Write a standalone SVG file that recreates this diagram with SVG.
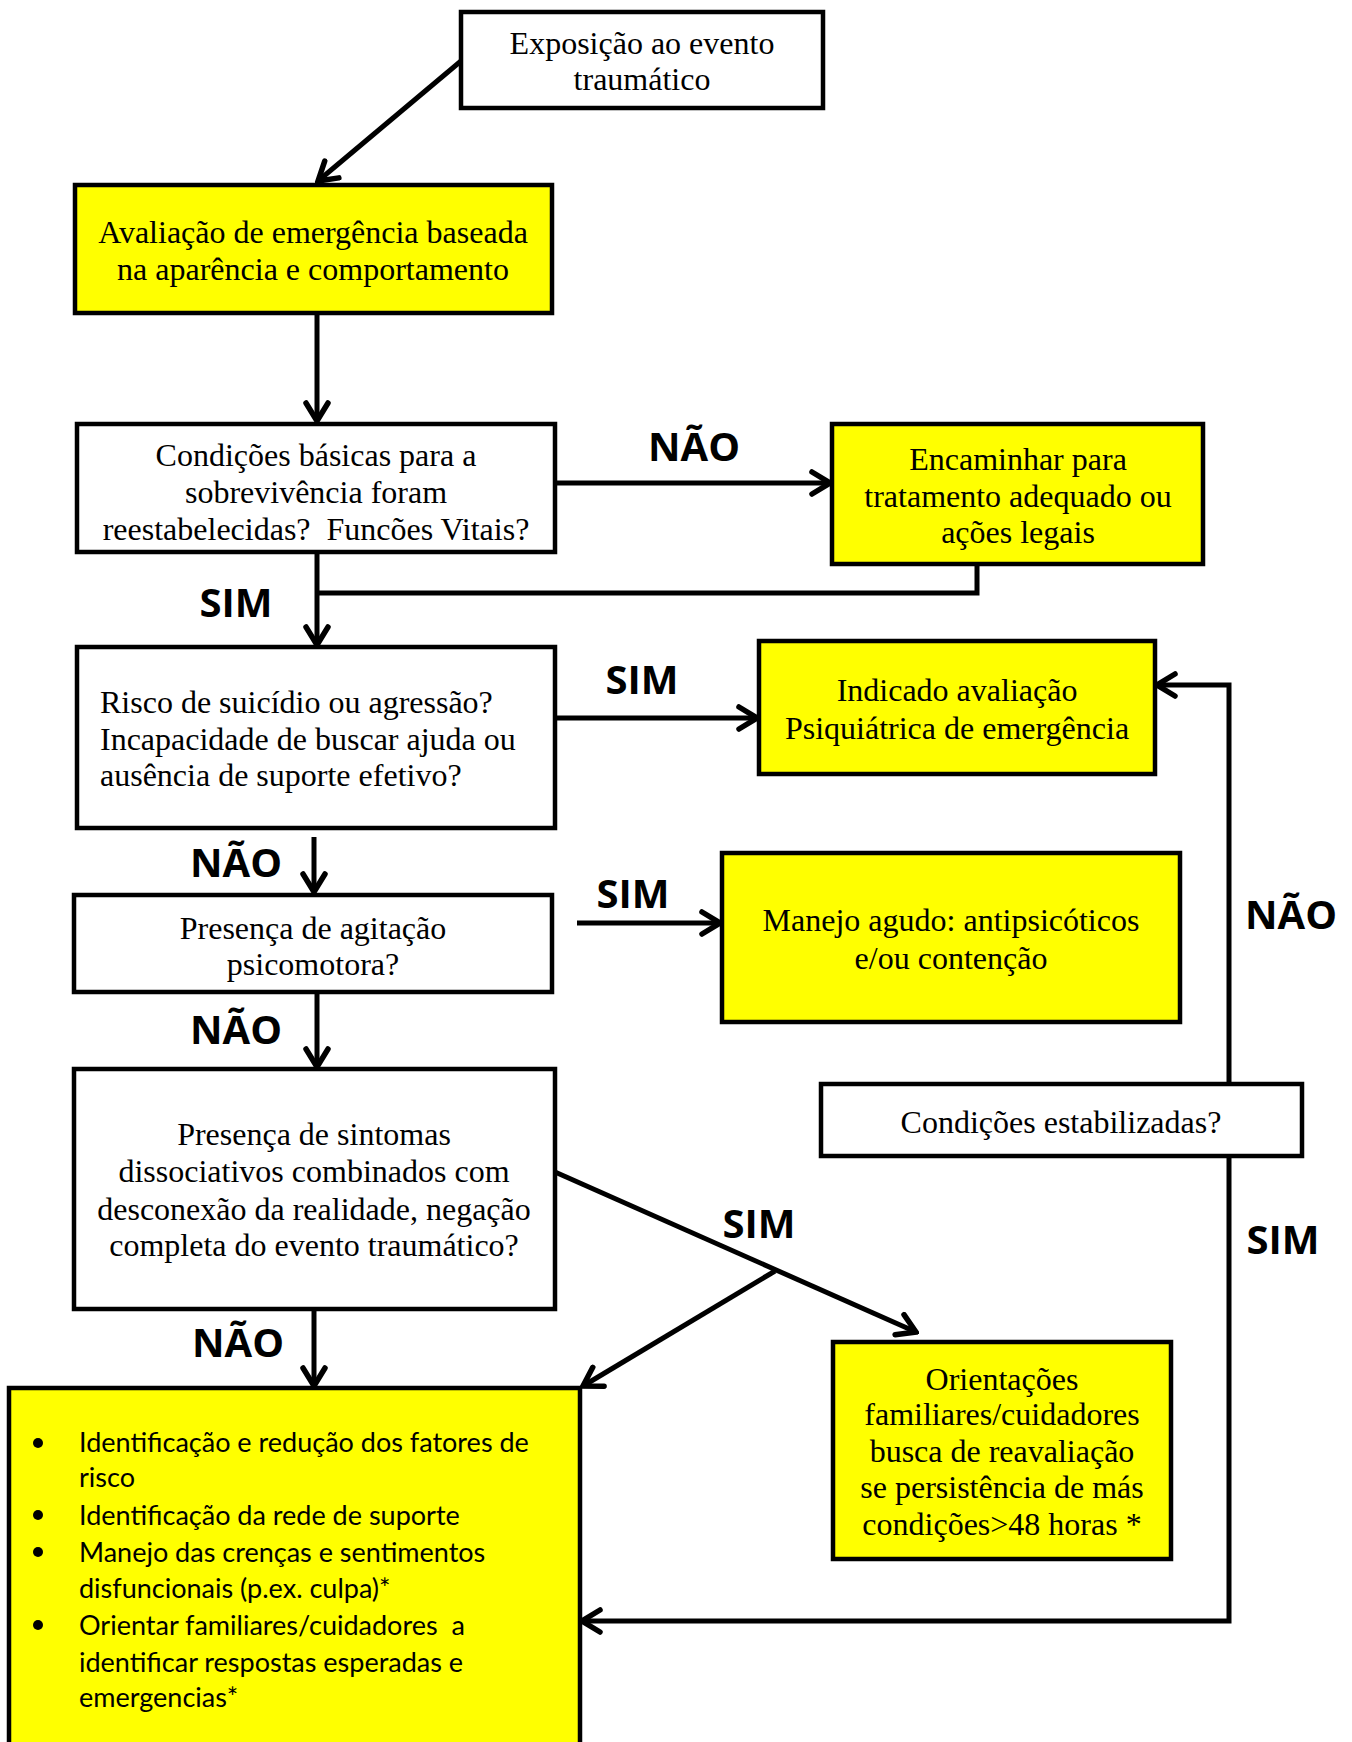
<svg xmlns="http://www.w3.org/2000/svg" width="1352" height="1742" viewBox="0 0 1352 1742">
<style>
.box{fill:#fff;stroke:#000;stroke-width:4.5}
.yel{fill:#ffff00;stroke:#000;stroke-width:4.5}
.t{font-family:"Liberation Serif","Times New Roman",serif;font-size:32px;fill:#000;text-anchor:middle}
.tl{font-family:"Liberation Serif","Times New Roman",serif;font-size:32px;fill:#000}
.lab{font-family:"Open Sans","Liberation Sans",sans-serif;font-weight:700;font-size:40px;fill:#000;text-anchor:middle}
.bt{font-family:Lato,"Liberation Sans",sans-serif;font-size:27px;fill:#000}
.pre{white-space:pre}
.c{fill:none;stroke:#000;stroke-width:5}
</style>
<defs>
<marker id="ah" viewBox="0 0 24 28" refX="21" refY="14" markerWidth="24" markerHeight="28" markerUnits="userSpaceOnUse" orient="auto">
<path d="M3,3 L21,14 L3,25" fill="none" stroke="#000" stroke-width="5.5" stroke-linecap="round" stroke-linejoin="miter"/>
</marker>
</defs>
<g id="connectors">
<line class="c" x1="461" y1="61" x2="318" y2="181" marker-end="url(#ah)"/>
<line class="c" x1="317" y1="313" x2="317" y2="421" marker-end="url(#ah)"/>
<line class="c" x1="555" y1="483" x2="830" y2="483" marker-end="url(#ah)"/>
<polyline class="c" points="977,564 977,593 317,593"/>
<line class="c" x1="317" y1="552" x2="317" y2="645" marker-end="url(#ah)"/>
<line class="c" x1="555" y1="718" x2="757" y2="718" marker-end="url(#ah)"/>
<polyline class="c" points="1229,1083 1229,685 1157,685" marker-end="url(#ah)"/>
<line class="c" x1="314" y1="837" x2="314" y2="892" marker-end="url(#ah)"/>
<line class="c" x1="577" y1="923" x2="720" y2="923" marker-end="url(#ah)"/>
<line class="c" x1="317" y1="994" x2="317" y2="1067" marker-end="url(#ah)"/>
<line class="c" x1="555" y1="1172" x2="916" y2="1332" marker-end="url(#ah)"/>
<line class="c" x1="775" y1="1271" x2="583" y2="1386" marker-end="url(#ah)"/>
<line class="c" x1="314" y1="1311" x2="314" y2="1386" marker-end="url(#ah)"/>
<polyline class="c" points="1229,1156 1229,1621 582,1621" marker-end="url(#ah)"/>
</g>
<g id="labels">
<text class="lab" x="694" y="461">NÃO</text>
<text class="lab" x="236" y="617">SIM</text>
<text class="lab" x="642" y="694">SIM</text>
<text class="lab" x="236" y="877">NÃO</text>
<text class="lab" x="633" y="908">SIM</text>
<text class="lab" x="236" y="1044">NÃO</text>
<text class="lab" x="1291" y="929">NÃO</text>
<text class="lab" x="759" y="1238">SIM</text>
<text class="lab" x="1283" y="1254">SIM</text>
<text class="lab" x="238" y="1357">NÃO</text>
</g>
<g id="n1">
<rect class="box" x="461" y="12" width="362" height="96"/>
<text class="t" x="642" y="54">Exposição ao evento</text>
<text class="t" x="642" y="90">traumático</text>
</g>
<g id="n2">
<rect class="yel" x="75" y="185" width="477" height="128"/>
<text class="t" x="313" y="243">Avaliação de emergência baseada</text>
<text class="t" x="313" y="280">na aparência e comportamento</text>
</g>
<g id="n3">
<rect class="box" x="77" y="424" width="478" height="128"/>
<text class="t" x="316" y="466">Condições básicas para a</text>
<text class="t" x="316" y="503">sobrevivência foram</text>
<text class="t pre" x="316" y="540">reestabelecidas?  Funcões Vitais?</text>
</g>
<g id="n4">
<rect class="yel" x="832" y="424" width="371" height="140"/>
<text class="t" x="1018" y="470">Encaminhar para</text>
<text class="t" x="1018" y="507">tratamento adequado ou</text>
<text class="t" x="1018" y="543">ações legais</text>
</g>
<g id="n5">
<rect class="box" x="77" y="647" width="478" height="181"/>
<text class="tl" x="100" y="713">Risco de suicídio ou agressão?</text>
<text class="tl" x="100" y="750">Incapacidade de buscar ajuda ou</text>
<text class="tl" x="100" y="786">ausência de suporte efetivo?</text>
</g>
<g id="n6">
<rect class="yel" x="759" y="641" width="396" height="133"/>
<text class="t" x="957" y="701">Indicado avaliação</text>
<text class="t" x="957" y="739">Psiquiátrica de emergência</text>
</g>
<g id="n7">
<rect class="box" x="74" y="895" width="478" height="97"/>
<text class="t" x="313" y="939">Presença de agitação</text>
<text class="t" x="313" y="975">psicomotora?</text>
</g>
<g id="n8">
<rect class="yel" x="722" y="853" width="458" height="169"/>
<text class="t" x="951" y="931">Manejo agudo: antipsicóticos</text>
<text class="t" x="951" y="969">e/ou contenção</text>
</g>
<g id="n9">
<rect class="box" x="74" y="1069" width="481" height="240"/>
<text class="t" x="314" y="1145">Presença de sintomas</text>
<text class="t" x="314" y="1182">dissociativos combinados com</text>
<text class="t" x="314" y="1220">desconexão da realidade, negação</text>
<text class="t" x="314" y="1256">completa do evento traumático?</text>
</g>
<g id="n10">
<rect class="box" x="821" y="1084" width="481" height="72"/>
<text class="t" x="1061" y="1133">Condições estabilizadas?</text>
</g>
<g id="n11">
<rect class="yel" x="9" y="1388" width="571" height="380"/>
<circle cx="38" cy="1443" r="5"/>
<circle cx="38" cy="1515" r="5"/>
<circle cx="38" cy="1552" r="5"/>
<circle cx="38" cy="1625" r="5"/>
<text class="bt" x="79" y="1452">Identificação e redução dos fatores de</text>
<text class="bt" x="79" y="1487">risco</text>
<text class="bt" x="79" y="1525">Identificação da rede de suporte</text>
<text class="bt" x="79" y="1562">Manejo das crenças e sentimentos</text>
<text class="bt" x="79" y="1598">disfuncionais (p.ex. culpa)*</text>
<text class="bt pre" x="79" y="1635">Orientar familiares/cuidadores  a</text>
<text class="bt" x="79" y="1672">identificar respostas esperadas e</text>
<text class="bt" x="79" y="1707">emergencias*</text>
</g>
<g id="n12">
<rect class="yel" x="833" y="1342" width="338" height="217"/>
<text class="t" x="1002" y="1390">Orientações</text>
<text class="t" x="1002" y="1425">familiares/cuidadores</text>
<text class="t" x="1002" y="1462">busca de reavaliação</text>
<text class="t" x="1002" y="1498">se persistência de más</text>
<text class="t" x="1002" y="1535">condições&gt;48 horas *</text>
</g>
</svg>
